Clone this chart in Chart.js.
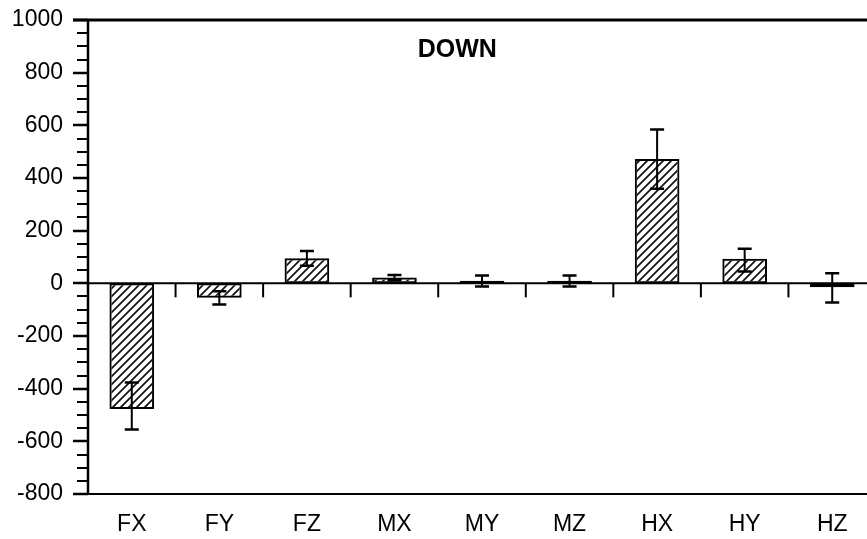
<!DOCTYPE html>
<html>
<head>
<meta charset="utf-8">
<script src="https://cdn.jsdelivr.net/npm/chart.js@4/dist/chart.umd.min.js"></script>
<style>
  html, body { margin: 0; padding: 0; background: #fff; overflow: hidden; }
  #wrap { width: 867px; height: 539px; overflow: hidden; }
</style>
</head>
<body>
<div id="wrap"><canvas id="c" width="880" height="539"></canvas></div>
<script>
// Force/moment components for the DOWN condition
const categories = ['FX', 'FY', 'FZ', 'MX', 'MY', 'MZ', 'HX', 'HY', 'HZ'];
const means      = [-477, -55, 95, 22, 10, 10, 472, 93, -15];
const errUpper   = [100, 25, 28, 10, 20, 20, 112, 38, 53];
const errLower   = [78, 25, 28, 10, 22, 22, 113, 48, 58];
const yTicks     = [-800, -600, -400, -200, 0, 200, 400, 600, 800, 1000];
const panelTitle = 'DOWN';

const FONT = '"Liberation Sans", Arial, Helvetica, sans-serif';

// diagonal hatch fill for the bars
function makeHatch() {
  const s = 8;
  const t = document.createElement('canvas');
  t.width = s; t.height = s;
  const g = t.getContext('2d');
  g.strokeStyle = '#111';
  g.lineWidth = 1.7;
  g.beginPath();
  g.moveTo(-1, s + 1); g.lineTo(s + 1, -1);
  g.moveTo(-1, 1); g.lineTo(1, -1);
  g.moveTo(s - 1, s + 1); g.lineTo(s + 1, s - 1);
  g.stroke();
  return document.getElementById('c').getContext('2d').createPattern(t, 'repeat');
}

// frame, axis ticks, zero line, error bars and panel title
const decorations = {
  id: 'decorations',
  afterDatasetsDraw(chart) {
    const ctx = chart.ctx;
    const area = chart.chartArea;
    const y = chart.scales.y;
    const x = chart.scales.x;
    ctx.save();
    ctx.strokeStyle = '#000';
    ctx.lineCap = 'butt';

    // y ticks: long at labelled values, short every 50
    for (let v = y.min; v <= y.max; v += 50) {
      const py = Math.round(y.getPixelForValue(v));
      const major = yTicks.includes(v);
      ctx.lineWidth = major ? 2.5 : 2;
      ctx.beginPath();
      ctx.moveTo(area.left - (major ? 15 : 11), py);
      ctx.lineTo(area.left, py);
      ctx.stroke();
    }

    // frame: top, bottom, left
    ctx.lineWidth = 3;
    ctx.beginPath();
    ctx.moveTo(area.left - 15, area.top); ctx.lineTo(chart.width, area.top);
    ctx.stroke();
    ctx.lineWidth = 2;
    ctx.beginPath();
    ctx.moveTo(area.left - 15, area.bottom); ctx.lineTo(chart.width, area.bottom);
    ctx.stroke();
    ctx.lineWidth = 2.5;
    ctx.beginPath();
    ctx.moveTo(area.left, area.top); ctx.lineTo(area.left, area.bottom);
    ctx.stroke();

    // zero line and category separators hanging below it
    const y0 = y.getPixelForValue(0);
    ctx.lineWidth = 2;
    ctx.beginPath();
    ctx.moveTo(area.left, y0); ctx.lineTo(chart.width, y0);
    ctx.stroke();
    for (let i = 1; i < categories.length; i++) {
      const px = (x.getPixelForValue(i - 1) + x.getPixelForValue(i)) / 2;
      ctx.beginPath();
      ctx.moveTo(px, y0); ctx.lineTo(px, y0 + 14);
      ctx.stroke();
    }

    // error bars
    const meta = chart.getDatasetMeta(0);
    meta.data.forEach((bar, i) => {
      const top = y.getPixelForValue(means[i] + errUpper[i]);
      const bot = y.getPixelForValue(means[i] - errLower[i]);
      ctx.lineWidth = 2;
      ctx.beginPath();
      ctx.moveTo(bar.x, top); ctx.lineTo(bar.x, bot);
      ctx.stroke();
      ctx.lineWidth = 2.5;
      ctx.beginPath();
      ctx.moveTo(bar.x - 7, top); ctx.lineTo(bar.x + 7, top);
      ctx.moveTo(bar.x - 7, bot); ctx.lineTo(bar.x + 7, bot);
      ctx.stroke();
    });

    // panel title
    ctx.fillStyle = '#000';
    ctx.font = 'bold 25px ' + FONT;
    ctx.textAlign = 'center';
    ctx.textBaseline = 'middle';
    ctx.fillText(panelTitle, area.left + (area.right - area.left) * 0.4686, area.top + 30);
    ctx.restore();
  }
};

new Chart(document.getElementById('c'), {
  type: 'bar',
  data: {
    labels: categories,
    datasets: [{
      data: means,
      backgroundColor: makeHatch(),
      borderColor: '#000',
      borderWidth: 2,
      borderSkipped: false,
      barPercentage: 0.51,
      categoryPercentage: 1.0
    }]
  },
  options: {
    responsive: false,
    animation: false,
    devicePixelRatio: 1,
    layout: { padding: { top: 20, right: 4, left: 0, bottom: 0 } },
    plugins: { legend: { display: false }, tooltip: { enabled: false }, title: { display: false } },
    scales: {
      x: {
        grid: { display: false },
        border: { display: false },
        ticks: { color: '#000', font: { family: FONT, size: 23 }, padding: 9, maxRotation: 0 },
        afterFit(s) { s.height = 45; s.paddingLeft = 0; s.paddingRight = 0; }
      },
      y: {
        min: -800,
        max: 1000,
        grid: { display: false },
        border: { display: false },
        afterBuildTicks(s) { s.ticks = yTicks.map(v => ({ value: v })); },
        ticks: { color: '#000', font: { family: FONT, size: 23 }, padding: 17, callback: v => String(v) },
        afterFit(s) { s.width = 88; s.paddingTop = 0; s.paddingBottom = 0; }
      }
    }
  },
  plugins: [decorations]
});
</script>
</body>
</html>
